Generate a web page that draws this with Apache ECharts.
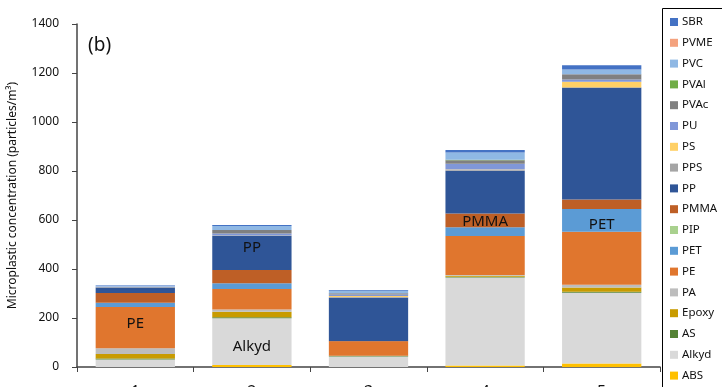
<!DOCTYPE html>
<html>
<head>
<meta charset="utf-8">
<script src="https://cdn.jsdelivr.net/npm/echarts@6/dist/echarts.min.js"></script>
<style>
  html, body { margin: 0; padding: 0; background: #fff; }
  #chart { width: 722px; height: 387px; }
</style>
</head>
<body>
<div id="chart"></div>
<script>
// Sampling sites along the x axis
const categories = ['1', '2', '3', '4', '5'];

// Polymer types, bottom of the stack first
const polymers = ['ABS', 'Alkyd', 'AS', 'Epoxy', 'PA', 'PE', 'PET', 'PIP', 'PMMA', 'PP',
                  'PPS', 'PS', 'PU', 'PVAc', 'PVAl', 'PVC', 'PVME', 'SBR'];

// Concentration per polymer at each site (particles/m³)
const ABS   = [0, 8, 0, 6, 14];
const Alkyd = [31, 191, 43, 359, 289];
const AS    = [4, 4, 3, 3, 4];
const Epoxy = [18, 23, 0, 4, 18];
const PA    = [24, 9, 0, 4, 11];
const PE    = [168, 83, 57, 159, 216];
const PET   = [17, 24, 0, 35, 93];
const PIP   = [0, 0, 0, 0, 0];
const PMMA  = [40, 54, 3, 57, 39];
const PP    = [23, 140, 177, 174, 457];
const PPS   = [2, 2, 3, 3, 0];
const PS    = [0, 0, 4, 2, 23];
const PU    = [2, 7, 6, 24, 9];
const PVAc  = [0, 14, 5, 14, 22];
const PVAl  = [0, 0, 0, 2, 0];
const PVC   = [3, 17, 10, 30, 19];
const PVME  = [0, 0, 0, 0, 0];
const SBR   = [2, 4, 3, 10, 18];

const values = { ABS, Alkyd, AS, Epoxy, PA, PE, PET, PIP, PMMA, PP,
                 PPS, PS, PU, PVAc, PVAl, PVC, PVME, SBR };

const colors = {
  ABS: '#FFC000', Alkyd: '#D9D9D9', AS: '#548235', Epoxy: '#C89B00', PA: '#BDBDBD',
  PE: '#E0762E', PET: '#5B9BD5', PIP: '#A9D18E', PMMA: '#BE5F26', PP: '#2F5597',
  PPS: '#A5A5A5', PS: '#FFD066', PU: '#8097D8', PVAc: '#808080', PVAl: '#70AD47',
  PVC: '#8FB8E4', PVME: '#F4A27E', SBR: '#4472C4'
};

// Segments that carry their polymer name (site index)
const namedSegments = { PE: 0, Alkyd: 1, PP: 1, PMMA: 3, PET: 4 };
const labelOffsets = { PE: [0, -4], Alkyd: [0, 5], PP: [0, -5], PMMA: [0, 1], PET: [0, 4] };

const series = polymers.map(name => ({
  name: name,
  type: 'bar',
  stack: 'total',
  barCategoryGap: '32%',
  itemStyle: { color: colors[name] },
  emphasis: { disabled: true },
  data: values[name].map((v, i) => namedSegments[name] === i
    ? { value: v, label: { show: true, position: 'inside', formatter: '{a}',
        color: '#111', fontSize: 15, fontFamily: 'Noto Sans', offset: labelOffsets[name] } }
    : v)
}));

const chart = echarts.init(document.getElementById('chart'), null, { renderer: 'canvas' });
chart.setOption({
  animation: false,
  backgroundColor: '#fff',
  grid: { left: 77, right: 62, top: 24, bottom: 20, containLabel: false, outerBoundsMode: 'none' },
  legend: {
    data: polymers.slice().reverse(),
    orient: 'vertical',
    left: 662,
    top: 8,
    icon: 'rect',
    itemWidth: 8,
    itemHeight: 8,
    itemGap: 8.8,
    padding: [8, 10, 0, 8],
    selectedMode: false,
    textStyle: { fontSize: 11.5, color: '#111', fontFamily: 'Noto Sans', padding: [0, 0, 0, -1] }
  },
  graphic: [{
    // frame around the legend
    type: 'rect', left: 662, top: 8, z: -1,
    shape: { width: 80, height: 400 },
    style: { fill: '#fff', stroke: '#000', lineWidth: 1 }
  }, {
    type: 'text', left: 88, top: 36,
    style: { text: '(b)', fontSize: 19, fill: '#111', fontFamily: 'Noto Sans' }
  }],
  xAxis: {
    type: 'category',
    data: categories,
    axisLine: { lineStyle: { color: '#444', width: 1.5 } },
    axisTick: { show: true, length: 5, lineStyle: { color: '#444' } },
    axisLabel: { margin: 17, fontSize: 16, color: '#111', fontFamily: 'Noto Sans' }
  },
  yAxis: {
    type: 'value',
    min: 0, max: 1400, interval: 200,
    name: 'Microplastic concentration (particles/m³)',
    nameLocation: 'middle',
    nameGap: 58,
    nameTextStyle: { fontSize: 12, color: '#111', fontFamily: 'Noto Sans' },
    splitLine: { show: false },
    axisLine: { show: true, lineStyle: { color: '#444', width: 1.5 } },
    axisTick: { show: true, length: 5, lineStyle: { color: '#444' } },
    axisLabel: { fontSize: 12, color: '#111', margin: 18, fontFamily: 'Noto Sans',
                 formatter: v => String(v) }
  },
  series: series
});
</script>
</body>
</html>
